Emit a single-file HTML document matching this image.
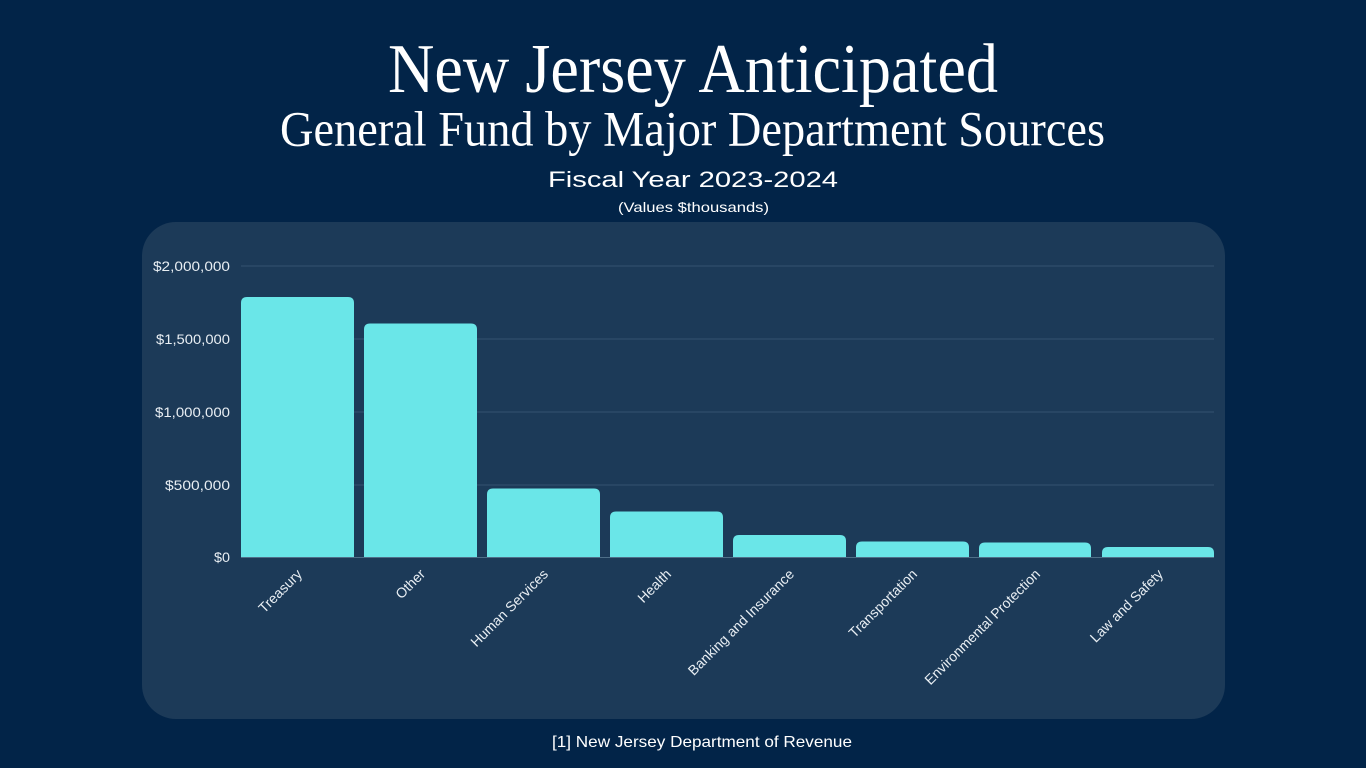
<!DOCTYPE html>
<html>
<head>
<meta charset="utf-8">
<style>
html,body{margin:0;padding:0;background:#022448;}
svg{display:block;}
</style>
</head>
<body>
<svg width="1366" height="768" viewBox="0 0 1366 768" xmlns="http://www.w3.org/2000/svg">
  <rect x="0" y="0" width="1366" height="768" fill="#022448"/>
  <!-- Titles -->
  <text x="693" y="92" text-anchor="middle" font-family="Liberation Serif, serif" font-size="70" fill="#ffffff" textLength="610" lengthAdjust="spacingAndGlyphs">New Jersey Anticipated</text>
  <text x="692.5" y="145.5" text-anchor="middle" font-family="Liberation Serif, serif" font-size="50" fill="#ffffff" textLength="825" lengthAdjust="spacingAndGlyphs">General Fund by Major Department Sources</text>
  <text x="693" y="187" text-anchor="middle" font-family="Liberation Sans, sans-serif" font-size="22" fill="#ffffff" textLength="290" lengthAdjust="spacingAndGlyphs">Fiscal Year 2023-2024</text>
  <text x="693.5" y="212" text-anchor="middle" font-family="Liberation Sans, sans-serif" font-size="14" fill="#ffffff" textLength="151" lengthAdjust="spacingAndGlyphs">(Values $thousands)</text>

  <!-- Panel -->
  <rect x="142" y="222" width="1083" height="497" rx="34" ry="34" fill="#1c3a58"/>

  <!-- Gridlines -->
  <g stroke="#34536f" stroke-width="1">
    <line x1="241" y1="266" x2="1214" y2="266"/>
    <line x1="241" y1="339" x2="1214" y2="339"/>
    <line x1="241" y1="412" x2="1214" y2="412"/>
    <line x1="241" y1="485" x2="1214" y2="485"/>
    <line x1="241" y1="557.5" x2="1214" y2="557.5" stroke="#4f6f88"/>
  </g>

  <!-- Y labels -->
  <g font-family="Liberation Sans, sans-serif" font-size="13.5" fill="#e8eef3" text-anchor="end">
    <text x="230" y="271" textLength="77" lengthAdjust="spacingAndGlyphs">$2,000,000</text>
    <text x="230" y="344" textLength="74" lengthAdjust="spacingAndGlyphs">$1,500,000</text>
    <text x="230" y="417" textLength="75" lengthAdjust="spacingAndGlyphs">$1,000,000</text>
    <text x="230" y="490" textLength="65" lengthAdjust="spacingAndGlyphs">$500,000</text>
    <text x="230" y="562" textLength="16" lengthAdjust="spacingAndGlyphs">$0</text>
  </g>

  <!-- Bars -->
  <g fill="#6ae6e8">
    <path d="M241 557 V303 Q241 297 247 297 H348 Q354 297 354 303 V557 Z"/>
    <path d="M364 557 V329.5 Q364 323.5 370 323.5 H471 Q477 323.5 477 329.5 V557 Z"/>
    <path d="M487 557 V494.5 Q487 488.5 493 488.5 H594 Q600 488.5 600 494.5 V557 Z"/>
    <path d="M610 557 V517.5 Q610 511.5 616 511.5 H717 Q723 511.5 723 517.5 V557 Z"/>
    <path d="M733 557 V541 Q733 535 739 535 H840 Q846 535 846 541 V557 Z"/>
    <path d="M856 557 V547.5 Q856 541.5 862 541.5 H963 Q969 541.5 969 547.5 V557 Z"/>
    <path d="M979 557 V548.5 Q979 542.5 985 542.5 H1085 Q1091 542.5 1091 548.5 V557 Z"/>
    <path d="M1102 557 V553 Q1102 547 1108 547 H1208 Q1214 547 1214 553 V557 Z"/>
  </g>

  <!-- X labels -->
  <g font-family="Liberation Sans, sans-serif" font-size="14" fill="#e8eef3" text-anchor="end">
    <text transform="translate(303,575) rotate(-45)">Treasury</text>
    <text transform="translate(426,575) rotate(-45)">Other</text>
    <text transform="translate(549,575) rotate(-45)">Human Services</text>
    <text transform="translate(672,575) rotate(-45)">Health</text>
    <text transform="translate(795,575) rotate(-45)">Banking and Insurance</text>
    <text transform="translate(918,575) rotate(-45)">Transportation</text>
    <text transform="translate(1041,575) rotate(-45)">Environmental Protection</text>
    <text transform="translate(1164,575) rotate(-45)">Law and Safety</text>
  </g>

  <!-- Footer -->
  <text x="702" y="747" text-anchor="middle" font-family="Liberation Sans, sans-serif" font-size="16" fill="#ffffff" textLength="300" lengthAdjust="spacingAndGlyphs">[1] New Jersey Department of Revenue</text>
</svg>
</body>
</html>
